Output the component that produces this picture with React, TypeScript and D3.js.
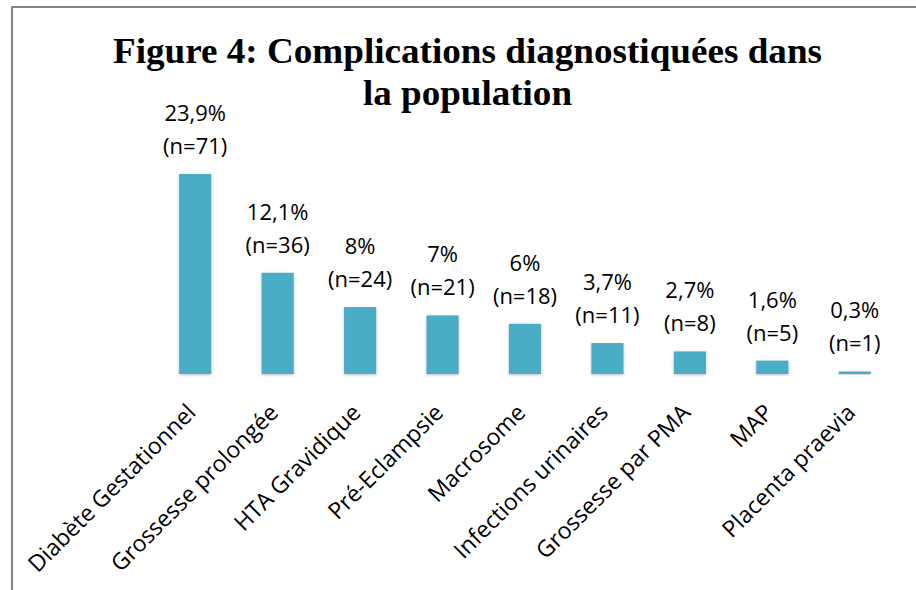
import React, { useEffect, useRef } from 'react';
import * as d3 from 'd3';

const categories = [
  'Diabète Gestationnel',
  'Grossesse prolongée',
  'HTA Gravidique',
  'Pré-Eclampsie',
  'Macrosome',
  'Infections urinaires',
  'Grossesse par PMA',
  'MAP',
  'Placenta praevia',
];
const percents = [23.9, 12.1, 8, 7, 6, 3.7, 2.7, 1.6, 0.3];
const counts = [71, 36, 24, 21, 18, 11, 8, 5, 1];
const titleLines = ['Figure 4: Complications diagnostiquées dans', 'la population'];

const App = () => {
  const svgRef = useRef<SVGSVGElement>(null);

  useEffect(() => {
    const width = 916;
    const height = 590;
    const axisY = 374;

    const root = svgRef.current!;
    root.innerHTML = '';

    const svg = d3.select(root).attr('width', width).attr('height', height);

    const defs = svg.append('defs');
    const f = defs.append('filter').attr('id', 'shadow').attr('x', '-30%').attr('y', '-10%').attr('width', '160%').attr('height', '120%');
    f.append('feDropShadow').attr('dx', 0).attr('dy', 1).attr('stdDeviation', 1.5).attr('flood-color', '#000').attr('flood-opacity', 0.25);

    svg.append('rect').attr('width', width).attr('height', height).attr('fill', '#fff');

    // chart frame
    svg.append('path')
      .attr('d', `M12,${height + 5} L12,7 L${width + 5},7`)
      .attr('fill', 'none')
      .attr('stroke', '#858585')
      .attr('stroke-width', 2);

    const x = d3.scaleBand()
      .domain(categories)
      .range([154, 896])
      .paddingInner(0.61)
      .paddingOuter(0.305);

    const y = d3.scaleLinear()
      .domain([0, 30])
      .range([axisY, axisY - 251]);

    // title
    const title = svg.append('g')
      .attr('font-family', '"Liberation Serif", "Times New Roman", serif')
      .attr('font-weight', 'bold')
      .attr('font-size', 36)
      .attr('text-anchor', 'middle')
      .attr('fill', '#000');
    title.append('text').attr('x', 467.5).attr('y', 63)
      .attr('textLength', 709).attr('lengthAdjust', 'spacingAndGlyphs')
      .text(titleLines[0]);
    title.append('text').attr('x', 467.5).attr('y', 105)
      .attr('textLength', 209).attr('lengthAdjust', 'spacingAndGlyphs')
      .text(titleLines[1]);

    // bars
    svg.append('g')
      .selectAll('rect')
      .data(percents)
      .enter()
      .append('rect')
      .attr('x', (d, i) => x(categories[i])!)
      .attr('y', d => y(d))
      .attr('width', x.bandwidth())
      .attr('height', d => axisY - y(d))
      .attr('fill', '#4BACC6')
      .attr('filter', 'url(#shadow)');

    // axis line
    svg.append('g')
      .attr('transform', `translate(0,${axisY})`)
      .call(d3.axisBottom(x).tickSize(0).tickFormat(() => ''))
      .call(g => g.select('.domain').attr('stroke', '#8c8c8c').attr('stroke-width', 1.5).attr('filter', 'url(#shadow)'));

    // value labels
    const labels = svg.append('g')
      .attr('font-family', '"Open Sans", sans-serif')
      .attr('font-size', 22)
      .attr('text-anchor', 'middle')
      .attr('fill', '#000');
    percents.forEach((p, i) => {
      const cx = x(categories[i])! + x.bandwidth() / 2;
      const top = y(p);
      labels.append('text').attr('x', cx).attr('y', top - 53)
        .text(`${String(p).replace('.', ',')}%`);
      labels.append('text').attr('x', cx).attr('y', top - 20)
        .text(`(n=${counts[i]})`);
    });

    // category labels
    const cats = svg.append('g')
      .attr('font-family', '"Open Sans", sans-serif')
      .attr('font-size', 23)
      .attr('text-anchor', 'end')
      .attr('fill', '#000');
    categories.forEach(c => {
      const cx = x(c)! + x.bandwidth() / 2 + 2;
      cats.append('text')
        .attr('transform', `translate(${cx},${axisY + 40}) rotate(-45)`)
        .text(c);
    });
  }, []);

  return (
    <div style={{ position: 'absolute', left: 0, top: 0 }}>
      <svg ref={svgRef} style={{ display: 'block' }}></svg>
    </div>
  );
};

export default App;
